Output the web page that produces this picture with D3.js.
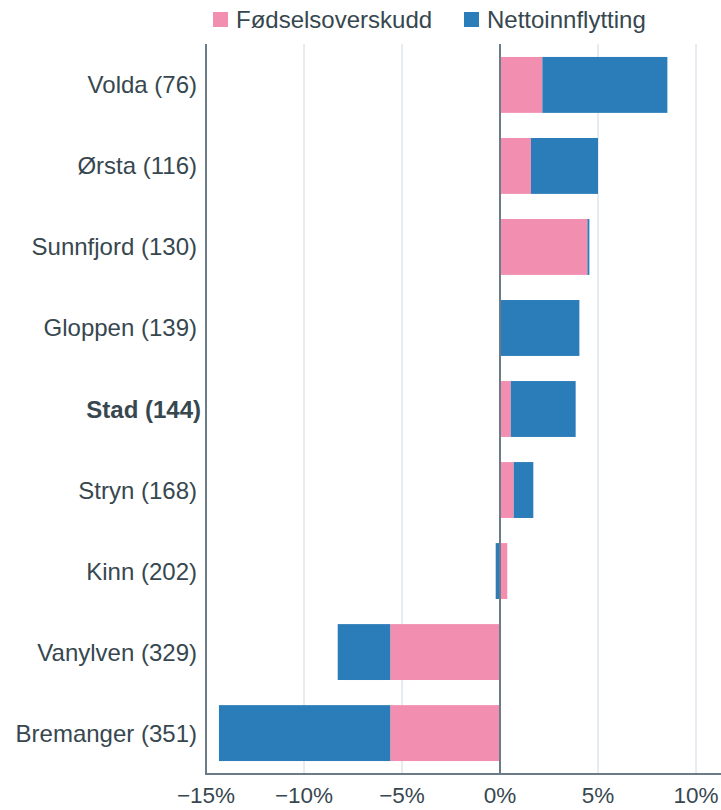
<!DOCTYPE html>
<html><head><meta charset="utf-8">
<script src="https://cdn.jsdelivr.net/npm/d3@7"></script>
<style>body{margin:0;background:#fff}svg{display:block;font-family:"Liberation Sans",Arial,sans-serif}</style>
</head><body><svg id="c" width="721" height="810"></svg>
<script>
const categories = ["Volda (76)","Ørsta (116)","Sunnfjord (130)","Gloppen (139)","Stad (144)","Stryn (168)","Kinn (202)","Vanylven (329)","Bremanger (351)"];
const fodsel = [2.16,1.58,4.46,0.05,0.55,0.70,0.37,-5.6,-5.6];
const netto = [6.38,3.42,0.10,4.0,3.31,1.0,-0.22,-2.68,-8.74];
const ticks = [-15,-10,-5,0,5,10];
const seriesNames = ["Fødselsoverskudd","Nettoinnflytting"];
const colors = ["#f28fb0","#2a7db8"];

const svg = d3.select("#c");
const x = d3.scaleLinear().domain([-15,10]).range([206,696]);
const y = d3.scaleBand().domain(categories).range([44,774]).paddingInner(0.31).paddingOuter(0.16);
const txt = "#37474f";

svg.append("g").selectAll("line").data(ticks.filter(t=>t!==0 && t!==-15)).join("line")
  .attr("x1",d=>x(d)).attr("x2",d=>x(d)).attr("y1",44).attr("y2",774)
  .attr("stroke","#cfd8e0").attr("stroke-width",1);

const rows = categories.map((c,i)=>({c,f:fodsel[i],n:netto[i]}));
rows.forEach(r=>{
  let pos=0,neg=0;
  [[r.f,0],[r.n,1]].forEach(([v,k])=>{
    let a,b;
    if(v>=0){a=pos;b=pos+v;pos=b;} else {a=neg;b=neg+v;neg=b;}
    svg.append("rect").attr("x",x(Math.min(a,b))).attr("width",Math.abs(x(b)-x(a)))
      .attr("y",y(r.c)).attr("height",y.bandwidth()).attr("fill",colors[k]);
  });
});

svg.append("line").attr("x1",x(0)).attr("x2",x(0)).attr("y1",44).attr("y2",774)
  .attr("stroke","#6b7c88").attr("stroke-width",2);
svg.append("line").attr("x1",206).attr("x2",206).attr("y1",44).attr("y2",775).attr("stroke","#6b7c88").attr("stroke-width",2);
svg.append("line").attr("x1",205).attr("x2",721).attr("y1",774).attr("y2",774).attr("stroke","#6b7c88").attr("stroke-width",2);

svg.append("g").selectAll("text").data(ticks).join("text")
  .attr("x",d=>x(d)).attr("y",803).attr("text-anchor","middle")
  .attr("fill",txt).attr("font-size",22.5)
  .text(d=> (d<0?"\u2212":"")+Math.abs(d)+"%");

svg.append("g").selectAll("text").data(categories).join("text")
  .attr("x",d=>d.startsWith("Stad")?201:197).attr("y",d=>y(d)+y.bandwidth()/2+8.5).attr("text-anchor","end")
  .attr("fill",txt).attr("font-size",24)
  .attr("font-weight",d=>d.startsWith("Stad")?"bold":"normal")
  .text(d=>d);

const lg = [{x:213,tx:236},{x:464,tx:487}];
seriesNames.forEach((s,i)=>{
  svg.append("rect").attr("x",lg[i].x).attr("y",12).attr("width",15).attr("height",15).attr("fill",colors[i]);
  svg.append("text").attr("x",lg[i].tx).attr("y",28).attr("fill",txt).attr("font-size",24).text(s);
});
</script></body></html>
